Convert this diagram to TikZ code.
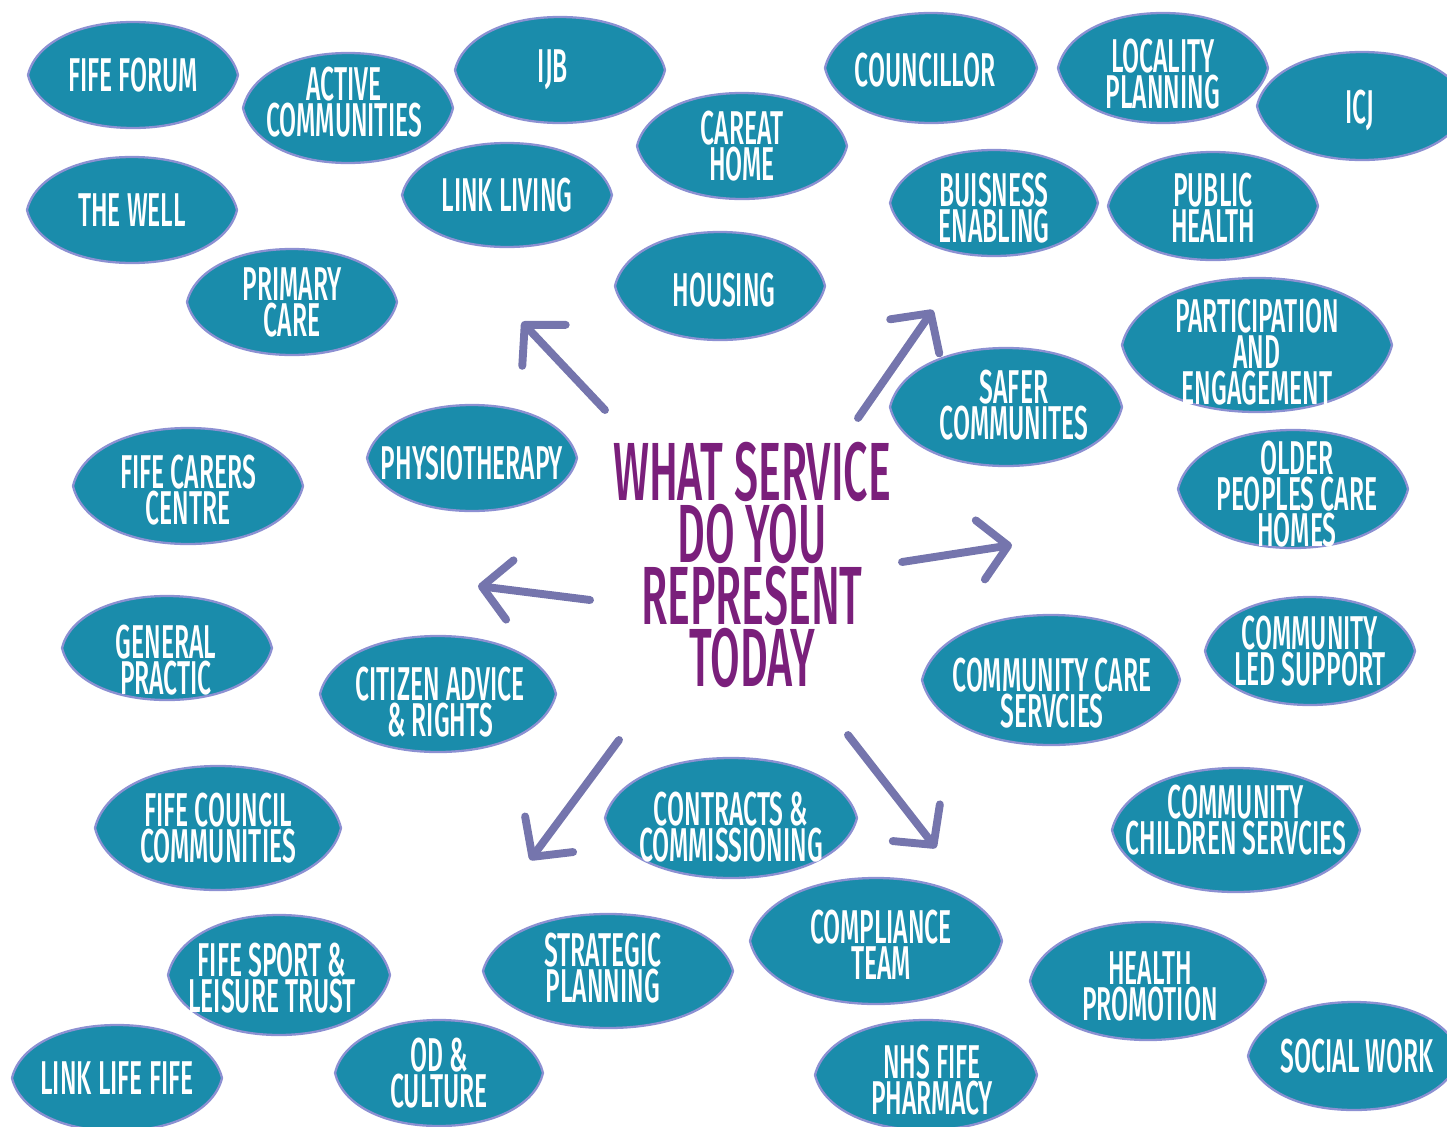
\documentclass[tikz,border=0pt]{standalone}
\usepackage{fontspec}
\usetikzlibrary{arrows.meta}
\newfontfamily\handfont{Fira Sans}[FakeStretch=0.52,UprightFont={* Medium},BoldFont={* SemiBold}]
\definecolor{servblue}{HTML}{1A8CAB}
\definecolor{servrim}{HTML}{8C90D2}
\definecolor{titlepurple}{HTML}{7A1F7B}
\definecolor{arrowgrey}{HTML}{7575AD}

% blob with its label: [label shift]{name}{cx}{cy}{half width}{half height}{text}
\newcommand{\service}[7][]{%
  \filldraw[servshape] ({#3-#5},#4)
    .. controls ({#3-0.93*#5},{#4-0.58*#6}) and ({#3-0.55*#5},{#4-#6}) .. (#3,{#4-#6})
    .. controls ({#3+0.55*#5},{#4-#6}) and ({#3+0.93*#5},{#4-0.58*#6}) .. ({#3+#5},#4)
    .. controls ({#3+0.93*#5},{#4+0.58*#6}) and ({#3+0.55*#5},{#4+#6}) .. (#3,{#4+#6})
    .. controls ({#3-0.55*#5},{#4+#6}) and ({#3-0.93*#5},{#4+0.58*#6}) .. cycle;
  \node[servtext,#1] (#2) at (#3,#4) {#7};}

\begin{document}
\begin{tikzpicture}[x=0.02cm,y=-0.02cm]
\tikzstyle{pfeil}=[-{Straight Barb[length=16pt,width=34pt,round]},line width=4.5pt,line cap=round,arrowgrey]
\tikzset{servshape/.style={fill=servblue,draw=servrim,line width=1.3pt},
servtext/.style={text=white,align=center,inner sep=0pt,
  font=\handfont\fontsize{27}{20.5}\selectfont}}
\useasboundingbox (0,0) rectangle (1447,1126);
\clip (0,0) rectangle (1447,1126);

% top rows
\service{fifeforum}{133}{75}{105}{53}{FIFE FORUM}
\service[shift={(-4,-6)}]{active}{348}{108}{105}{55}{ACTIVE\\COMMUNITIES}
\service[shift={(-7,0)}]{ijb}{560}{70}{105}{53}{IJB}
\service{careat}{742}{146}{105}{53}{CAREAT\\HOME}
\service[shift={(-6,2)}]{councillor}{931}{68}{106}{55}{COUNCILLOR}
\service[shift={(0,6)}]{locality}{1163}{68}{105}{55}{LOCALITY\\PLANNING}
\service[shift={(-2,4)}]{icj}{1362}{106}{105}{54}{ICJ}
\service{thewell}{132}{210}{105}{53}{THE WELL}
\service{linkliving}{507}{195}{105}{52}{LINK LIVING}
\service[shift={(0,5)}]{buisness}{994}{203}{104}{53}{BUISNESS\\ENABLING}
\service[shift={(0,2)}]{publichealth}{1213}{206}{105}{54}{PUBLIC\\HEALTH}
\service{primarycare}{292}{302}{105}{53}{PRIMARY\\CARE}
\service[shift={(4,4)}]{housing}{720}{286}{105}{54}{HOUSING}

% middle
\service[shift={(0,7)}]{participation}{1257}{345}{135}{67}{PARTICIPATION\\AND\\ENGAGEMENT}
\service[shift={(8,-2)}]{safer}{1006}{407}{116}{59}{SAFER\\COMMUNITES}
\service[shift={(0,5)}]{physio}{472}{458}{105}{53}{PHYSIOTHERAPY}
\service[shift={(0,4)}]{fifecarers}{188}{486}{115}{58}{FIFE CARERS\\CENTRE}
\service[shift={(4,5)}]{older}{1293}{489}{115}{59}{OLDER\\PEOPLES CARE\\HOMES}
\service[shift={(-1,12)}]{general}{167}{648}{105}{52}{GENERAL\\PRACTIC}
\service[shift={(2,8)}]{citizen}{438}{694}{118}{58}{CITIZEN ADVICE\\\& RIGHTS}
\service[shift={(1,13)}]{commcare}{1051}{680}{129}{65}{COMMUNITY CARE\\SERVCIES}
\service{commled}{1310}{651}{105}{54}{COMMUNITY\\LED SUPPORT}

% bottom rows
\service{fifecouncil}{218}{828}{123}{62}{FIFE COUNCIL\\COMMUNITIES}
\service[shift={(0,9)}]{contracts}{731}{818}{126}{60}{CONTRACTS \&\\COMMISSIONING}
\service[shift={(0,-10)}]{commchildren}{1236}{830}{124}{62}{COMMUNITY\\CHILDREN SERVCIES}
\service[shift={(-7,3)}]{sport}{279}{975}{111}{60}{FIFE SPORT \&\\LEISURE TRUST}
\service[shift={(-5,-3)}]{strategic}{608}{971}{125}{57}{STRATEGIC\\PLANNING}
\service[shift={(5,4)}]{compliance}{876}{941}{126}{63}{COMPLIANCE\\TEAM}
\service[shift={(2,5)}]{healthpromo}{1148}{981}{118}{59}{HEALTH\\PROMOTION}
\service{linklife}{117}{1078}{105}{53}{LINK LIFE FIFE}
\service{odculture}{439}{1073}{104}{53}{OD \&\\CULTURE}
\service[shift={(6,5)}]{nhs}{926}{1075}{111}{55}{NHS FIFE\\PHARMACY}
\service[shift={(3,0)}]{socialwork}{1354}{1056}{106}{54}{SOCIAL WORK}

% question in the middle
\node[text=titlepurple,align=center,inner sep=0pt,
  font=\handfont\fontsize{47}{35.3}\selectfont] (question) at (752,565)
  {WHAT SERVICE\\DO YOU\\REPRESENT\\TODAY};

% arrows pointing out
\coordinate (ul0) at (605,410); \coordinate (ul1) at (522,322);
\coordinate (ur0) at (858,418); \coordinate (ur1) at (933,310);
\coordinate (l0) at (590,600);  \coordinate (l1) at (478,586);
\coordinate (r0) at (902,562);  \coordinate (r1) at (1012,545);
\coordinate (dl0) at (619,740); \coordinate (dl1) at (530,860);
\coordinate (dr0) at (848,735); \coordinate (dr1) at (936,848);
\draw[pfeil] (ul0) -- (ul1);
\draw[pfeil] (ur0) -- (ur1);
\draw[pfeil] (l0) -- (l1);
\draw[pfeil] (r0) -- (r1);
\draw[pfeil] (dl0) -- (dl1);
\draw[pfeil] (dr0) -- (dr1);

\end{tikzpicture}
\end{document}
